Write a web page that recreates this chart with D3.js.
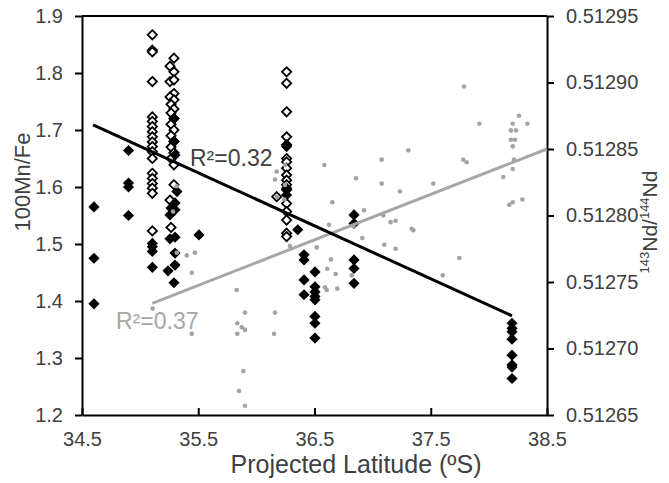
<!DOCTYPE html>
<html><head><meta charset="utf-8">
<script src="https://cdn.jsdelivr.net/npm/d3@7"></script>
<style>
body{margin:0;background:#fff;}
svg{display:block;font-family:"Liberation Sans",Arial,sans-serif;}
</style></head>
<body><svg id="c" width="669" height="483"></svg>
<script>
// ---- data ----
const xTicks = [34.5, 35.5, 36.5, 37.5, 38.5];
const yLeftTicks = [1.2, 1.3, 1.4, 1.5, 1.6, 1.7, 1.8, 1.9];
const yRightTicks = [0.51265, 0.51270, 0.51275, 0.51280, 0.51285, 0.51290, 0.51295];

// open diamonds: [latitude, 100Mn/Fe]
const openDiamonds = [
  [35.105,1.867],[35.105,1.840],[35.105,1.837],[35.105,1.785],[35.105,1.723],[35.105,1.715],
  [35.105,1.706],[35.105,1.697],[35.105,1.688],[35.105,1.679],[35.105,1.671],[35.105,1.662],
  [35.105,1.650],[35.105,1.624],[35.105,1.615],[35.105,1.606],[35.105,1.598],[35.105,1.589],
  [35.105,1.523],
  [35.291,1.826],[35.257,1.812],[35.291,1.802],[35.257,1.785],[35.291,1.788],[35.291,1.764],
  [35.257,1.758],[35.291,1.753],[35.266,1.745],[35.291,1.737],[35.266,1.730],[35.291,1.720],
  [35.266,1.710],[35.291,1.700],[35.266,1.690],[35.291,1.680],[35.266,1.670],[35.291,1.660],
  [35.266,1.650],[35.291,1.639],[35.291,1.604],[35.257,1.577],[35.266,1.529],
  [36.26,1.802],[36.26,1.782],[36.26,1.732],[36.26,1.688],[36.26,1.674],[36.26,1.650],
  [36.26,1.644],[36.26,1.633],[36.26,1.621],[36.26,1.612],[36.26,1.604],[36.26,1.595],
  [36.26,1.571],[36.26,1.557],[36.26,1.542],[36.26,1.519],[36.26,1.513],[36.175,1.583]
];
// filled diamonds: [latitude, 100Mn/Fe]
const filledDiamonds = [
  [34.603,1.565],[34.603,1.475],[34.603,1.395],
  [34.900,1.664],[34.900,1.607],[34.900,1.600],[34.900,1.550],
  [35.105,1.501],[35.105,1.495],[35.105,1.487],[35.105,1.459],
  [35.291,1.720],[35.291,1.680],[35.300,1.656],
  [35.317,1.592],[35.300,1.572],[35.266,1.563],[35.300,1.560],[35.257,1.551],[35.257,1.509],
  [35.300,1.512],[35.300,1.484],[35.300,1.463],[35.240,1.453],[35.291,1.432],
  [35.506,1.516],
  [36.26,1.671],[36.26,1.598],[36.26,1.586],
  [36.356,1.525],
  [36.410,1.481],[36.410,1.472],[36.410,1.437],[36.410,1.411],
  [36.504,1.451],[36.504,1.425],[36.504,1.416],[36.504,1.408],[36.504,1.402],[36.504,1.373],
  [36.504,1.361],[36.504,1.335],
  [36.840,1.551],[36.840,1.536],[36.840,1.472],[36.840,1.457],[36.840,1.431],
  [38.199,1.361],[38.199,1.352],[38.199,1.346],[38.199,1.333],[38.199,1.305],[38.199,1.288],
  [38.199,1.284],[38.199,1.264]
];
// grey dots: [latitude, 143Nd/144Nd]
const ndPoints = [
  [35.108,0.512730],[35.444,0.512711],[35.902,0.512727],[35.836,0.512719],[35.874,0.512716],
  [35.902,0.512714],[35.836,0.512711],[36.160,0.512727],[36.152,0.512711],[35.888,0.512683],
  [35.851,0.512668],[35.902,0.512657],[35.315,0.512822],[35.283,0.512803],[35.315,0.512772],
  [35.401,0.512770],[35.472,0.512772],[35.444,0.512757],[35.831,0.512744],[36.175,0.512833],
  [36.160,0.512827],[36.177,0.512814],[36.584,0.512838],[37.078,0.512842],[37.307,0.512849],
  [36.857,0.512828],[37.078,0.512824],[37.522,0.512824],[37.780,0.512842],[37.809,0.512840],
  [37.235,0.512818],[36.653,0.512810],[36.926,0.512804],[37.092,0.512800],[37.155,0.512795],
  [37.198,0.512796],[37.336,0.512790],[37.350,0.512789],[36.625,0.512793],[36.911,0.512783],
  [37.100,0.512778],[37.198,0.512775],[36.289,0.512777],[36.519,0.512776],[36.642,0.512767],
  [37.746,0.512768],[36.610,0.512760],[36.682,0.512756],[36.820,0.512755],[37.603,0.512755],
  [36.590,0.512746],[36.605,0.512744],[36.696,0.512745],[36.834,0.512792],[37.786,0.512897],
  [37.918,0.512869],[38.259,0.512875],[38.331,0.512869],[38.205,0.512869],[38.190,0.512864],
  [38.233,0.512864],[38.190,0.512857],[38.225,0.512857],[38.205,0.512852],[38.216,0.512842],
  [38.205,0.512835],[38.124,0.512829],[38.176,0.512808],[38.205,0.512810],[38.288,0.512812],
  [36.246,0.512838],[36.246,0.512823],[36.240,0.512812]
];
// regression lines
const mnFit = [[34.595,1.709],[38.199,1.374]];
const ndFit = [[35.105,0.512734],[38.5,0.512850]];
const labels = {mn:"R²=0.32", nd:"R²=0.37"};

// ---- drawing ----
const svg = d3.select("#c");
const L = 82, R = 547, T = 16, B = 415;
const x = d3.scaleLinear().domain([34.5,38.5]).range([L,R]);
const yL = d3.scaleLinear().domain([1.2,1.9]).range([B,T]);
const yR = d3.scaleLinear().domain([0.51265,0.51295]).range([B,T]);
const txt = "#404040";

// frame top
svg.append("line").attr("x1",L).attr("x2",R).attr("y1",T).attr("y2",T)
  .attr("stroke","#000").attr("stroke-width",2);

const ax = (g) => {
  g.select(".domain").attr("stroke","#000").attr("stroke-width",2);
  g.selectAll(".tick line").attr("stroke","#000").attr("stroke-width",2);
  g.selectAll(".tick text").attr("fill",txt).attr("font-size",20)
    .attr("font-family","Liberation Sans, Arial, sans-serif");
};
svg.append("g").attr("transform",`translate(${L},0)`)
  .call(d3.axisLeft(yL).tickValues(yLeftTicks).tickFormat(d3.format(".1f")).tickSize(7).tickSizeOuter(0).tickPadding(12))
  .call(ax);
svg.append("g").attr("transform",`translate(${R},0)`)
  .call(d3.axisRight(yR).tickValues(yRightTicks).tickFormat(d3.format(".5f")).tickSize(7).tickSizeOuter(0).tickPadding(12))
  .call(ax);
svg.append("g").attr("transform",`translate(0,${B})`)
  .call(d3.axisBottom(x).tickValues(xTicks).tickFormat(d3.format(".1f")).tickSize(-7).tickSizeOuter(0).tickPadding(17))
  .call(ax);

// axis titles
svg.append("text").attr("x",356).attr("y",473).attr("text-anchor","middle")
  .attr("font-size",25).attr("fill",txt).text("Projected Latitude (ºS)");
svg.append("text").attr("transform","translate(30,182) rotate(-90)").attr("text-anchor","middle")
  .attr("font-size",22).attr("fill",txt).text("100Mn/Fe");
const rt = svg.append("text").attr("transform","translate(657,222) rotate(-90)").attr("text-anchor","middle")
  .attr("font-size",21).attr("fill",txt);
rt.append("tspan").attr("font-size",13).attr("dy",-8).text("143");
rt.append("tspan").attr("dy",8).text("Nd/");
rt.append("tspan").attr("font-size",13).attr("dy",-8).text("144");
rt.append("tspan").attr("dy",8).text("Nd");

const diamond = (r) => `M0,${-r}L${r},0L0,${r}L${-r},0Z`;

// open diamonds
svg.append("g").selectAll("path").data(openDiamonds).join("path")
  .attr("d",diamond(4.6)).attr("transform",d=>`translate(${x(d[0])},${yL(d[1])})`)
  .attr("fill","#fff").attr("stroke","#000").attr("stroke-width",1.8);
// filled diamonds
svg.append("g").selectAll("path").data(filledDiamonds).join("path")
  .attr("d",diamond(5.6)).attr("transform",d=>`translate(${x(d[0])},${yL(d[1])})`)
  .attr("fill","#000");
// grey dots
svg.append("g").selectAll("circle").data(ndPoints).join("circle")
  .attr("cx",d=>x(d[0])).attr("cy",d=>yR(d[1])).attr("r",2.3).attr("fill","#a3a3a3");

// fit lines
svg.append("path").datum(ndFit).attr("d",d3.line().x(d=>x(d[0])).y(d=>yR(d[1])))
  .attr("stroke","#a6a6a6").attr("stroke-width",3).attr("fill","none");
svg.append("path").datum(mnFit).attr("d",d3.line().x(d=>x(d[0])).y(d=>yL(d[1])))
  .attr("stroke","#000").attr("stroke-width",3).attr("fill","none");

// R² labels
svg.append("text").attr("x",190).attr("y",166).attr("font-size",23).attr("fill","#404040").text(labels.mn);
svg.append("text").attr("x",116).attr("y",329).attr("font-size",23).attr("fill","#a6a6a6").text(labels.nd);
</script></body></html>
